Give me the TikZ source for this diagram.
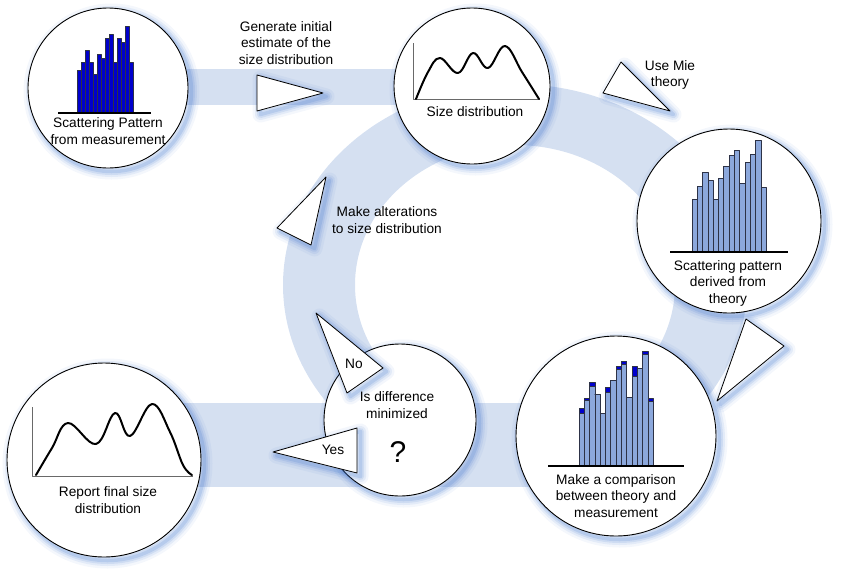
\documentclass[tikz,border=0pt]{standalone}
\usepackage{fontspec}
\setmainfont{Liberation Sans}
\definecolor{bandblue}{RGB}{213,224,241}
\definecolor{glowblue}{RGB}{60,115,205}
\definecolor{barblue}{RGB}{0,0,205}
\definecolor{barlight}{RGB}{140,168,220}
\definecolor{barline}{RGB}{45,50,70}
\definecolor{axisgrey}{RGB}{105,105,105}

\begin{document}
\begin{tikzpicture}[x=1pt, y=-1pt, line join=round,
    every node/.style={font=\fontsize{13.7}{16.5}\selectfont, align=center, inner sep=0pt},
    disc/.style={circle, draw, line width=0.9pt, fill=white, inner sep=0pt, minimum size=#1},
    pointer/.style={draw, line width=0.8pt, fill=white}]
    \useasboundingbox (0,0) rectangle (845,582);
    % histogram: left x, baseline y, bar width, heights, fill
    \newcommand{\histo}[5]{
      \foreach \h [count=\i from 0] in {#4} {
        \draw[fill=#5, draw=barline, line width=0.7pt] (#1+\i*#3,#2) rectangle ++(#3,-\h);
      }
    }
    % soft blue glow under a path
    \newcommand{\glow}[1]{
      \foreach \w/\o in {16/0.06, 11/0.09, 7/0.12, 3.5/0.16} {
        \draw[glowblue, line width=\w pt, opacity=\o, shift={(3.5,3.5)}] #1;
      }
    }
    % Background: cycle ring and the two straight bands
    \fill[bandblue] (108,69) rectangle (472,105);
    \fill[bandblue] (104,403) rectangle (616,487);
    \fill[bandblue, even odd rule] (515,285) ellipse (232 and 201) (515,285) ellipse (160 and 140);
    % Glows of the circles
    \glow{(108,88) circle (80)}
    \glow{(472,86) circle (78)}
    \glow{(729,221) circle (92)}
    \glow{(616,436) circle (100)}
    \glow{(400,420) circle (76)}
    \glow{(104,460) circle (97)}
    % Circles
    \node[disc=160pt] (cmeas) at (108,88) {};
    \node[disc=156pt] (csize) at (472,86) {};
    \node[disc=184pt] (ctheo) at (729,221) {};
    \node[disc=200pt] (ccomp) at (616,436) {};
    \node[disc=152pt] (cdiff) at (400,420) {};
    \node[disc=194pt] (crep) at (104,460) {};
    % Circle 1: measured pattern
    \histo{77}{113}{4}{43,51,63,51,39,59,55,75,79,51,75,71,87,51}{barblue}
    \draw[line width=1.2pt] (58,113) -- (151,113);
    % Circle 2: size distribution
    \draw[axisgrey, line width=1pt] (413,43) -- (413,99) -- (540,99);
    \draw[line width=2pt, line cap=round] plot[smooth, tension=0.65] coordinates {(416,99) (428,72) (440,58) (458,73) (473,53) (488,68) (505,46) (522,72) (539,99)};
    % Circle 3: pattern from theory
    \histo{692}{252}{5.3}{53,66,80,72,53,74,86,97,102,69,90,98,112,65}{barlight}
    \draw[line width=1.2pt] (670,252) -- (788,252);
    % Circle 4: comparison, measured excess on top
    \histo{579}{466}{5.3}{53,66,80,72,53,74,86,97,102,69,90,98,112,65}{barlight}
    \foreach \h/\e [count=\i from 0] in {53/5,66/2,80/4,72/0,53/0,74/5,86/0,97/3,102/3,69/0,90/10,98/0,112/3,65/3} {
      \draw[fill=barblue, draw=barline, line width=0.7pt] (579+\i*5.3,466-\h) rectangle ++(5.3,-\e);
    }
    \draw[line width=1.2pt] (548,466) -- (684,466);
    % Circle 6: final distribution
    \draw[axisgrey, line width=1pt] (32,407) -- (32,476) -- (193,476);
    \draw[line width=2pt, line cap=round] plot[smooth, tension=0.65] coordinates {(36,475) (52,448) (68,423) (96,444) (115,413) (130,436) (152,404) (170,432) (183,465) (192,475)};
    % Arrow heads
    \glow{(257,75) -- (257,111) -- (323,93) -- cycle}
    \draw[pointer] (257,75) -- (257,111) -- (323,93) -- cycle;
    \glow{(621,62) -- (603,93) -- (670,111) -- cycle}
    \draw[pointer] (621,62) -- (603,93) -- (670,111) -- cycle;
    \glow{(746,319) -- (784,346) -- (717,401) -- cycle}
    \draw[pointer] (746,319) -- (784,346) -- (717,401) -- cycle;
    \glow{(326,177) -- (277,228) -- (311,245) -- cycle}
    \draw[pointer] (326,177) -- (277,228) -- (311,245) -- cycle;
    \glow{(316,313) -- (383,368) -- (347,393) -- cycle}
    \draw[pointer] (316,313) -- (383,368) -- (347,393) -- cycle;
    \glow{(273,452) -- (357,428) -- (357,473) -- cycle}
    \draw[pointer] (273,452) -- (357,428) -- (357,473) -- cycle;
    % Labels
    \node (lblmeas) at (108,131) {Scattering Pattern\\from measurement};
    \node (lblsize) at (475,112) {Size distribution};
    \node (lbltheo) at (728,283) {Scattering pattern\\derived from\\theory};
    \node (lblcomp) at (616,496) {Make a comparison\\between theory and\\measurement};
    \node (lbldiff) at (397,405) {Is difference\\minimized};
    \node[font=\fontsize{30}{32}\selectfont] (lblq) at (398,452) {?};
    \node (lblrep) at (108,500) {Report final size\\distribution};
    \node (lblgen) at (286,43) {Generate initial\\estimate of the\\size distribution};
    \node (lblmie) at (670,75) {Use Mie\\theory};
    \node (lblalt) at (387,220) {Make alterations\\to size distribution};
    \node (lblno) at (354,364) {No};
    \node (lblyes) at (333,450) {Yes};
\end{tikzpicture}
\end{document}
